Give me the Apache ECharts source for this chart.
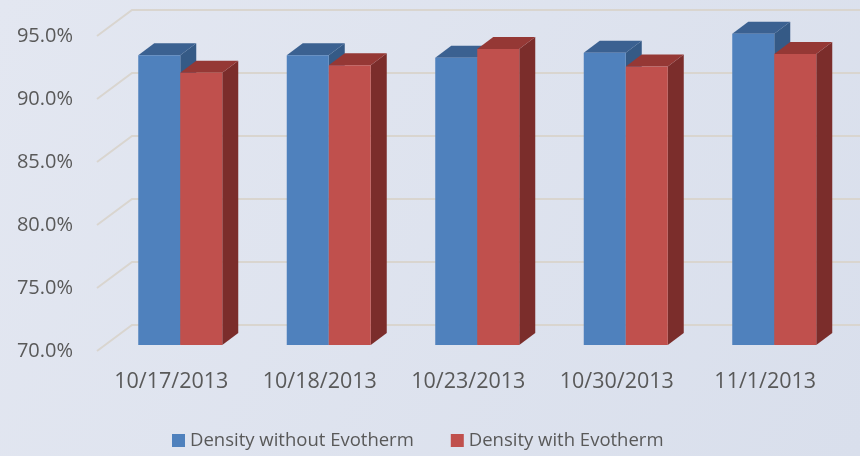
<!DOCTYPE html>
<html>
<head>
<meta charset="utf-8">
<script src="https://cdn.jsdelivr.net/npm/echarts@6/dist/echarts.min.js"></script>
<style>
    html, body { margin: 0; padding: 0; }
    #chart { width: 860px; height: 456px; }
</style>
</head>
<body>
<div id="chart"></div>
<script>
// dates on the category axis
var categories = ['10/17/2013', '10/18/2013', '10/23/2013', '10/30/2013', '11/1/2013'];
// density, percent
var withoutEvotherm = [93.0, 93.0, 92.8, 93.2, 94.7];
var withEvotherm = [91.6, 92.2, 93.5, 92.1, 93.1];
var yTicks = [70, 75, 80, 85, 90, 95];
var seriesNames = ['Density without Evotherm', 'Density with Evotherm'];

var DEPTH_X = 35, DEPTH_Y = 26;   // wall depth
var BAR_DX = 16, BAR_DY = 12;     // bar depth
var BAR_W = 42;

var faceColors = [
    { front: '#4F81BD', top: '#3B6191', side: '#355A86' },
    { front: '#C0504D', top: '#953835', side: '#7B2D2B' }
];

function toPairs(arr) {
    var out = [];
    for (var i = 0; i < arr.length; i++) out.push([i, arr[i]]);
    return out;
}

function barRenderer(idx) {
    var c = faceColors[idx];
    return function (params, api) {
        var top = api.coord([api.value(0), api.value(1)]);
        var base = api.coord([api.value(0), 70]);
        var x0 = top[0] + (idx === 0 ? -BAR_W : 0);
        var x1 = x0 + BAR_W;
        var y = top[1], yb = base[1];
        return {
            type: 'group',
            children: [
                { type: 'polygon', shape: { points: [[x1, y], [x1 + BAR_DX, y - BAR_DY], [x1 + BAR_DX, yb - BAR_DY], [x1, yb]] }, style: { fill: c.side } },
                { type: 'polygon', shape: { points: [[x0, y], [x0 + BAR_DX, y - BAR_DY], [x1 + BAR_DX, y - BAR_DY], [x1, y]] }, style: { fill: c.top } },
                { type: 'rect', shape: { x: x0, y: y, width: BAR_W, height: yb - y }, style: { fill: c.front } }
            ]
        };
    };
}

function gridRenderer(params, api) {
    var x = params.coordSys.x;
    var y = api.coord([0, api.value(1)])[1];
    return {
        type: 'polyline',
        shape: { points: [[x, y], [x + DEPTH_X, y - DEPTH_Y], [870, y - DEPTH_Y]] },
        style: { stroke: '#D9D5CF', lineWidth: 2, fill: null }
    };
}

var gridData = [];
for (var k = 0; k < yTicks.length; k++) gridData.push([0, yTicks[k]]);

var chart = echarts.init(document.getElementById('chart'));
var textColor = '#595959';
var font = 'Open Sans';

chart.setOption({
    animation: false,
    backgroundColor: new echarts.graphic.LinearGradient(0, 0, 1, 1, [
        { offset: 0, color: '#E3E7F1' },
        { offset: 1, color: '#D9DFEC' }
    ]),
    legend: {
        left: 167,
        top: 426,
        icon: 'rect',
        itemWidth: 13,
        itemHeight: 13,
        itemGap: 37,
        data: seriesNames,
        textStyle: { color: textColor, fontSize: 18.5, fontFamily: font }
    },
    grid: [
        { left: 106, right: 11.5, top: 30, bottom: 111 },   // bar plane
        { left: 97, right: 20.5, top: 36, bottom: 105 }     // front plane
    ],
    xAxis: [
        { type: 'category', gridIndex: 0, data: categories, show: false },
        {
            type: 'category', gridIndex: 1, data: categories,
            axisLine: { show: false }, axisTick: { show: false },
            axisLabel: { color: textColor, fontSize: 21.5, fontFamily: font, margin: 20 }
        }
    ],
    yAxis: [
        { type: 'value', gridIndex: 0, min: 70, max: 95, interval: 5, show: false },
        {
            type: 'value', gridIndex: 1, min: 70, max: 95, interval: 5,
            axisLine: { show: false }, axisTick: { show: false }, splitLine: { show: false },
            axisLabel: {
                color: textColor, fontSize: 20, fontFamily: font, margin: 24,
                formatter: function (v) { return v.toFixed(1) + '%'; }
            }
        }
    ],
    series: [
        {
            type: 'custom', xAxisIndex: 1, yAxisIndex: 1, z: 1, silent: true,
            renderItem: gridRenderer, data: gridData
        },
        {
            name: seriesNames[0], type: 'custom', xAxisIndex: 0, yAxisIndex: 0, z: 2,
            itemStyle: { color: faceColors[0].front },
            renderItem: barRenderer(0), data: toPairs(withoutEvotherm)
        },
        {
            name: seriesNames[1], type: 'custom', xAxisIndex: 0, yAxisIndex: 0, z: 3,
            itemStyle: { color: faceColors[1].front },
            renderItem: barRenderer(1), data: toPairs(withEvotherm)
        }
    ]
});
</script>
</body>
</html>
